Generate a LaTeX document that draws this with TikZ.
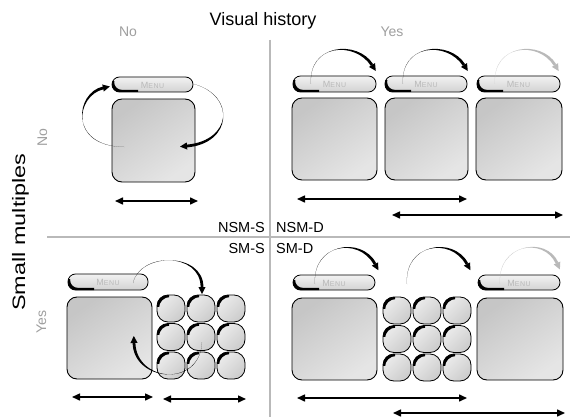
\documentclass[tikz,border=0pt]{standalone}
\usepackage{fontspec}
\setmainfont{Liberation Sans}
\newfontfamily\menufont[LetterSpace=6]{Liberation Sans}
\usetikzlibrary{arrows.meta,calc}

\tikzset{
  divider/.style={draw=gray!55, line width=1.1pt},
  hdr/.style={text=gray!75, font=\fontsize{14}{16}\selectfont, inner sep=0pt},
  code/.style={font=\fontsize{14.5}{16}\selectfont, inner sep=0pt},
  dbl/.style={line width=1.5pt, {Triangle[length=8pt,width=7pt]}-{Triangle[length=8pt,width=7pt]}},
}

\newcommand\screenbox[4]{%
  \shade[draw=black, line width=0.9pt, rounded corners=10pt, top color=gray!45, bottom color=gray!20, shading angle=35] (#1,#2) rectangle (#3,#4);}

\newcommand\menupill[4]{%
  \shade[draw=black, line width=0.8pt, rounded corners=7.5pt, top color=gray!10, bottom color=gray!35] (#1,#2) rectangle (#3,#4);
  \begin{scope}
    \clip[rounded corners=7.5pt] (#1,#2) rectangle (#3,#4);
    \clip ($(#1,#2)+(-2,5)$) rectangle ($(#1,#4)+(26,2)$);
    \fill[black, even odd rule, rounded corners=7.5pt] (#1,#2) rectangle (#3,#4) ($(#1,#2)+(2.2,-2.2)$) rectangle ($(#3,#4)+(2.2,-2.2)$);
  \end{scope}
  \node[text=gray!55, inner sep=0pt, font=\menufont\fontsize{9}{9}\selectfont] at ({(#1+#3)/2},{(#2+#4)/2+0.5}) {M{\fontsize{7}{7}\selectfont ENU}};
}

\newcommand\gcell[2]{%
  \shade[draw=black, line width=0.8pt, rounded corners=11pt, top color=gray!15, bottom color=gray!40, shading angle=45] (#1,#2) rectangle ++(28,27);
  \begin{scope}
    \clip[rounded corners=11pt] (#1,#2) rectangle ++(28,27);
    \clip (#1,#2) rectangle ++(12,11);
    \fill[black, even odd rule, rounded corners=11pt] (#1,#2) rectangle ++(28,27) ($(#1,#2)+(2,2)$) rectangle ++(28,27);
  \end{scope}}

\newcommand\grid[2]{%
  \foreach \i in {0,1,2}{\foreach \j in {0,1,2}{
    \gcell{#1+30*\i}{#2+28.5*\j}}}}

% tapered arrow: start, control 1, control 2, base of head, colour
\newcommand\tarrow[5]{%
  \fill[#5] #1 .. controls #2 and ($#3!1.4pt!-90:#4$) .. ($#4!1.4pt!90:#3$)
     -- ($#4!1.4pt!-90:#3$) .. controls ($#3!1.4pt!90:#4$) and #2 .. #1 -- cycle;
  \fill[#5] ($#4!-7pt!#3$) -- ($#4!3.6pt!90:#3$) -- ($#4!3.6pt!-90:#3$) -- cycle;}

\begin{document}
\begin{tikzpicture}[x=1pt, y=-1pt]
\useasboundingbox[fill=white] (0,0) rectangle (570,417);

% dividers
\draw[divider] (270,40) -- (270,417);
\draw[divider] (47,237) -- (570,237);

% headings
\node[font=\fontsize{18}{20}\selectfont, anchor=base, inner sep=0pt] (title) at (263,26) {Visual history};
\node[hdr, anchor=base] (hno) at (128,37) {No};
\node[hdr, anchor=base] (hyes) at (392,37) {Yes};
\node[rotate=90, anchor=base, inner sep=0pt, font=\fontsize{18}{20}\selectfont] (sm) at (25,232) {\scalebox{1.3}[1]{Small multiples}};
\node[hdr, rotate=90, anchor=base] (vno) at (47,138) {No};
\node[hdr, rotate=90, anchor=base] (vyes) at (46,322) {Yes};

\node[code, anchor=base east] (nsms) at (265,232) {NSM-S};
\node[code, anchor=base west] (nsmd) at (276,232) {NSM-D};
\node[code, anchor=base east] (sms) at (265,253) {SM-S};
\node[code, anchor=base west] (smd) at (276,253) {SM-D};

% ---------- top left (NSM-S)
\menupill{112}{77}{193}{92}
\screenbox{112}{99}{195}{182}
\tarrow{(124,147)}{(68,146)}{(76,94)}{(103,88)}{black}
\tarrow{(194,84)}{(236,96)}{(232,142)}{(187,146)}{black}
\coordinate (tl1) at (115,201); \coordinate (tl2) at (198,201);
\draw[dbl] (tl1) -- (tl2);

% ---------- top right (NSM-D)
\menupill{293}{76}{376}{92}
\menupill{385}{76}{467}{92}
\menupill{477}{76}{560}{92}
\screenbox{292}{98}{377}{180}
\screenbox{385}{98}{468}{180}
\screenbox{476}{98}{562}{180}
\tarrow{(311,84)}{(308,44)}{(356,40)}{(372,65)}{black}
\tarrow{(403,84)}{(400,44)}{(448,40)}{(464,65)}{black}
\tarrow{(495,84)}{(492,44)}{(540,40)}{(555,65)}{gray!55}
\coordinate (tr1) at (297,199); \coordinate (tr2) at (467,199);
\coordinate (tr3) at (392,215); \coordinate (tr4) at (563,215);
\draw[dbl] (tr1) -- (tr2);
\draw[dbl] (tr3) -- (tr4);

% ---------- bottom left (SM-S)
\menupill{68}{274}{148}{290}
\screenbox{67}{297}{152}{379}
\grid{157}{295}
\tarrow{(133,283)}{(140,252)}{(202,252)}{(202,287)}{black}
\tarrow{(202,342)}{(200,388)}{(135,382)}{(134,343)}{black}
\coordinate (bl1) at (72,397); \coordinate (bl2) at (153,397);
\coordinate (bl3) at (163,399); \coordinate (bl4) at (246,399);
\draw[dbl] (bl1) -- (bl2);
\draw[dbl] (bl3) -- (bl4);

% ---------- bottom right (SM-D)
\menupill{293}{275}{375}{290}
\screenbox{292}{298}{377}{380}
\grid{383}{297}
\menupill{478}{275}{560}{290}
\screenbox{477}{298}{563}{380}
\tarrow{(315,284)}{(312,244)}{(360,236)}{(375,264)}{black}
\tarrow{(407,284)}{(404,244)}{(452,236)}{(467,264)}{black}
\tarrow{(500,284)}{(497,244)}{(545,236)}{(557,263)}{gray!55}
\coordinate (br1) at (297,398); \coordinate (br2) at (467,398);
\coordinate (br3) at (393,413); \coordinate (br4) at (565,413);
\draw[dbl] (br1) -- (br2);
\draw[dbl] (br3) -- (br4);
\end{tikzpicture}
\end{document}
